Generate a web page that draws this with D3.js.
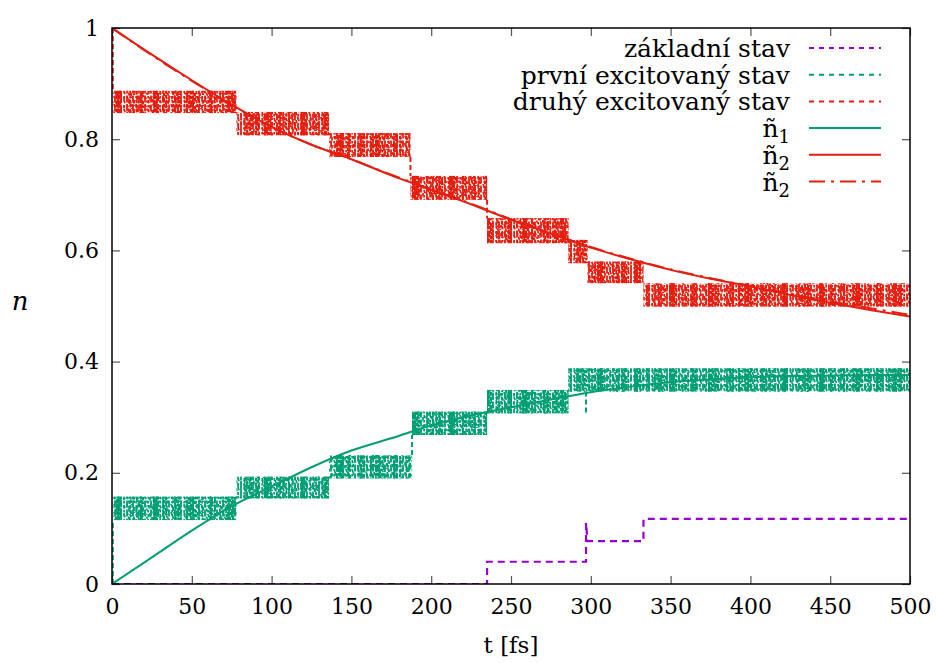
<!DOCTYPE html>
<html>
<head>
<meta charset="utf-8">
<script src="https://cdn.jsdelivr.net/npm/d3@7"></script>
<style>
  html, body { margin: 0; padding: 0; background: #fff; }
  svg { display: block; }
  text { font-family: "DejaVu Serif", "Liberation Serif", serif; fill: #000; }
</style>
</head>
<body>
<svg id="chart" width="936" height="663"></svg>
<script>
// Occupation of the states vs. time (fs)
const xTicks = [0, 50, 100, 150, 200, 250, 300, 350, 400, 450, 500];
const yTicks = [0, 0.2, 0.4, 0.6, 0.8, 1];
const yTickLabels = ["0", "0.2", "0.4", "0.6", "0.8", "1"];

const legendLabels = ["základní stav", "první excitovaný stav", "druhý excitovaný stav", "ñ|1", "ñ|2", "ñ|2"];

// ground state population: (t, n)
const groundState = [
  [0, 0], [235, 0], [235, 0.04], [297, 0.04], [297, 0.11], [298, 0.077],
  [333, 0.077], [333, 0.117], [500, 0.117]
];

// oscillating populations: bands [t0, t1, low, high]
const firstExcitedStart = 0;
const firstExcitedBands = [
  [0.5, 78, 0.115, 0.157],
  [78, 136, 0.154, 0.193],
  [136, 188, 0.190, 0.232],
  [188, 235, 0.268, 0.310],
  [235, 286, 0.307, 0.349],
  [286, 500, 0.346, 0.388]
];
const firstExcitedSpikes = [[297, 0.307]];

const secondExcitedStart = 1;
const secondExcitedBands = [
  [0.5, 78, 0.847, 0.887],
  [78, 136, 0.807, 0.849],
  [136, 187, 0.768, 0.811],
  [187, 235, 0.691, 0.734],
  [235, 286, 0.613, 0.658],
  [286, 298, 0.577, 0.619],
  [298, 333, 0.541, 0.580],
  [333, 500, 0.499, 0.541]
];

// smooth rate-model populations
const smoothT  = [0, 25, 50, 75, 100, 125, 150, 175, 200, 225, 250, 275, 300, 325, 350, 375, 400, 425, 450, 475, 500];
const smoothN1 = [0, 0.048, 0.096, 0.140, 0.175, 0.210, 0.240, 0.262, 0.285, 0.303, 0.318, 0.332, 0.345, 0.355, 0.363, 0.368, 0.372, 0.374, 0.375, 0.376, 0.376];
const smoothN2 = [1, 0.952, 0.906, 0.862, 0.822, 0.790, 0.764, 0.735, 0.709, 0.683, 0.655, 0.630, 0.605, 0.584, 0.565, 0.549, 0.535, 0.520, 0.506, 0.493, 0.481];
const smoothN2b = [1, 0.951, 0.905, 0.861, 0.822, 0.790, 0.764, 0.736, 0.710, 0.684, 0.656, 0.631, 0.606, 0.585, 0.566, 0.550, 0.536, 0.522, 0.508, 0.496, 0.484];

const colPurple = "#9400d3", colGreen = "#009e73", colRed = "#e51e10";

const svg = d3.select("#chart");
const x = d3.scaleLinear().domain([0, 500]).range([112, 910]);
const y = d3.scaleLinear().domain([0, 1]).range([584, 28]);

const defs = svg.append("defs");
defs.append("clipPath").attr("id", "plotClip")
  .append("rect").attr("x", 112).attr("y", 28).attr("width", 798).attr("height", 556);

// dense dashed texture of the fast oscillations (overlaid tilings)
const textures = [
  { id: "texA", w: 6, h: 9, d: "M1,0V3.5M1,5.5V9M4,1L5,4.5M4.2,6V8.5", sw: 1.8 },
  { id: "texB", w: 13, h: 8, d: "M2,0L4.5,7M7,1V6M10,0L12.5,8", sw: 1.7 },
  { id: "texC", w: 23, h: 11, d: "M3,0V11M5,2V9M14,0L17,10M19,1V7", sw: 2.2 },
  { id: "texD", w: 37, h: 13, d: "M6,0V13M8,0V13M10,2V11M25,0L28,13M30,1V12", sw: 2 }
];
function texture(t, key, color) {
  const p = defs.append("pattern").attr("id", t.id + key)
    .attr("patternUnits", "userSpaceOnUse").attr("width", t.w).attr("height", t.h);
  p.append("path").attr("d", t.d).attr("stroke", color).attr("stroke-width", t.sw)
    .attr("fill", "none").attr("stroke-dasharray", "3.5,1.2");
}
[["r", colRed], ["g", colGreen]].forEach(([k, c]) => textures.forEach(t => texture(t, k, c)));

const plot = svg.append("g").attr("clip-path", "url(#plotClip)");

function drawBands(bands, start, key, color, spikes) {
  const g = plot.append("g");
  textures.forEach(t => {
    g.selectAll(null).data(bands).enter().append("rect")
      .attr("x", d => x(d[0])).attr("width", d => x(d[1]) - x(d[0]))
      .attr("y", d => y(d[3])).attr("height", d => y(d[2]) - y(d[3]))
      .attr("fill", "url(#" + t.id + key + ")");
  });
  // vertical jumps between consecutive levels
  const joins = bands.map((b, i) => {
    if (i === 0) {
      return start > b[3] ? [b[0], start, b[3]] : [b[0], start, b[2]];
    }
    const p = bands[i - 1];
    return b[3] < p[3] ? [b[0], p[2], b[3]] : [b[0], p[3], b[2]];
  }).concat((spikes || []).map(s => {
    const b = bands.find(b => s[0] >= b[0] && s[0] <= b[1]);
    return [s[0], b[2], s[1]];
  }));
  g.selectAll(null).data(joins).enter().append("line")
    .attr("x1", d => x(d[0])).attr("x2", d => x(d[0]))
    .attr("y1", d => y(d[1])).attr("y2", d => y(d[2]))
    .attr("stroke", color).attr("stroke-width", 2).attr("stroke-dasharray", "5,3");
}

drawBands(secondExcitedBands, secondExcitedStart, "r", colRed);
drawBands(firstExcitedBands, firstExcitedStart, "g", colGreen, firstExcitedSpikes);

const line = d3.line().x(d => x(d[0])).y(d => y(d[1]));
const smoothLine = d3.line().x(d => x(d[0])).y(d => y(d[1])).curve(d3.curveMonotoneX);

plot.append("path").attr("d", line(groundState))
  .attr("fill", "none").attr("stroke", colPurple).attr("stroke-width", 2.2).attr("stroke-dasharray", "7,5");

plot.append("path").attr("d", smoothLine(smoothT.map((t, i) => [t, smoothN1[i]])))
  .attr("fill", "none").attr("stroke", colGreen).attr("stroke-width", 2);
plot.append("path").attr("d", smoothLine(smoothT.map((t, i) => [t, smoothN2[i]])))
  .attr("fill", "none").attr("stroke", colRed).attr("stroke-width", 2);
plot.append("path").attr("d", smoothLine(smoothT.map((t, i) => [t, smoothN2b[i]])))
  .attr("fill", "none").attr("stroke", colRed).attr("stroke-width", 2).attr("stroke-dasharray", "16,6,3,6");

// axes with inward ticks mirrored on all sides
const tickLen = 8;
const axes = svg.append("g");
axes.append("g").attr("transform", "translate(0,584)")
  .call(d3.axisBottom(x).tickValues(xTicks).tickSize(-tickLen).tickPadding(14).tickFormat(d3.format("d")));
axes.append("g").attr("transform", "translate(0,28)")
  .call(d3.axisTop(x).tickValues(xTicks).tickSize(-tickLen).tickFormat(""));
axes.append("g").attr("transform", "translate(112,0)")
  .call(d3.axisLeft(y).tickValues(yTicks).tickSize(-tickLen).tickPadding(13).tickFormat((d, i) => yTickLabels[i]));
axes.append("g").attr("transform", "translate(910,0)")
  .call(d3.axisRight(y).tickValues(yTicks).tickSize(-tickLen).tickFormat(""));
axes.selectAll(".domain").remove();
axes.selectAll(".tick line").attr("stroke", "#555").attr("stroke-width", 1.2);
axes.selectAll(".tick text").attr("font-size", 22).attr("fill", "#000");

svg.append("rect").attr("x", 112).attr("y", 28).attr("width", 798).attr("height", 556)
  .attr("fill", "none").attr("stroke", "#000").attr("stroke-width", 1.5);

// axis titles
svg.append("text").attr("x", 511).attr("y", 653).attr("text-anchor", "middle")
  .attr("font-size", 23).text("t [fs]");
svg.append("text").attr("x", 20).attr("y", 310).attr("text-anchor", "middle")
  .attr("font-size", 26).attr("font-style", "italic").text("n");

// key
const keyStyles = [
  { color: colPurple, dash: "5,5" },
  { color: colGreen, dash: "5,5" },
  { color: colRed, dash: "5,5" },
  { color: colGreen, dash: null },
  { color: colRed, dash: null },
  { color: colRed, dash: "16,6,3,6" }
];
const key = svg.append("g");
legendLabels.forEach((lab, i) => {
  const cy = 48 + i * 26.7;
  const tx = key.append("text").attr("x", 790).attr("y", cy + 9).attr("text-anchor", "end")
    .attr("font-size", 25);
  const parts = lab.split("|");
  tx.append("tspan").text(parts[0]);
  if (parts[1]) tx.append("tspan").attr("font-size", 18).attr("dy", 6).text(parts[1]);
  key.append("line").attr("x1", 809).attr("x2", 881).attr("y1", cy).attr("y2", cy)
    .attr("stroke", keyStyles[i].color).attr("stroke-width", 2)
    .attr("stroke-dasharray", keyStyles[i].dash);
});
</script>
</body>
</html>
